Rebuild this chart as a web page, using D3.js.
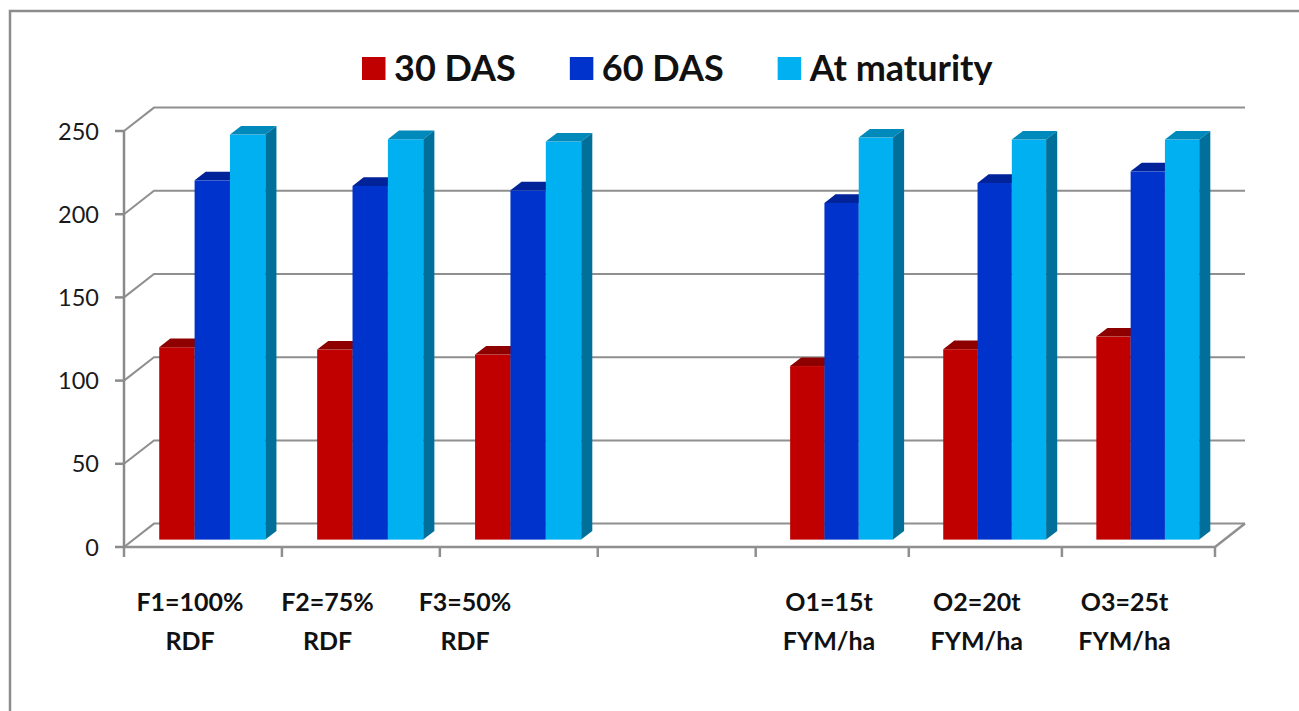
<!DOCTYPE html>
<html>
<head>
<meta charset="utf-8">
<script src="https://cdn.jsdelivr.net/npm/d3@7"></script>
<style>
  html, body { margin: 0; padding: 0; background: #fff; }
  svg { display: block; font-family: Lato, "Open Sans", sans-serif; }
</style>
</head>
<body>
<svg id="chart" width="1299" height="711"></svg>
<script>
// categories (two label lines each); the 4th slot is an empty gap in the chart
const catLine1 = ["F1=100%", "F2=75%", "F3=50%", "", "O1=15t", "O2=20t", "O3=25t"];
const catLine2 = ["RDF", "RDF", "RDF", "", "FYM/ha", "FYM/ha", "FYM/ha"];

// values
const das30    = [115.6, 114.2, 111.2, null, 104.3, 114.4, 122.0];
const das60    = [215.9, 212.5, 209.9, null, 202.3, 214.3, 221.3];
const maturity = [243.4, 240.6, 239.2, null, 241.6, 240.4, 240.4];

const seriesNames = ["30 DAS", "60 DAS", "At maturity"];
const yTicks = [0, 50, 100, 150, 200, 250];

const series = [das30, das60, maturity];
const colors = [
  { front: "#c00000", top: "#8e0000", side: "#900000" },
  { front: "#0033cc", top: "#00239a", side: "#00229a" },
  { front: "#00b0f0", top: "#0089bb", side: "#00709a" }
];

const svg = d3.select("#chart");

// outer frame
svg.append("rect")
  .attr("x", 10).attr("y", 11)
  .attr("width", 1400).attr("height", 800)
  .attr("fill", "none").attr("stroke", "#8c8c8c").attr("stroke-width", 2.5);

// 3d depth of the plot box
const DX = 30, DY = -23.4;
const x0 = 124, x1 = 1215;

const y = d3.scaleLinear().domain([0, 250]).range([547, 131]);
// category edges on the front plane (slight perspective: left side is wider)
const xEdge = d3.scaleLinear().domain([0, 4, 7]).range([x0, 755.7, x1]);
// label centres
const labelX = d3.scaleLinear().domain([0, 2, 4, 6]).range([190, 465, 829, 1124.5]);

const grid = svg.append("g")
  .attr("stroke", "#8f8f8f").attr("stroke-width", 2).attr("fill", "none");

// back wall gridlines + side wall diagonals
yTicks.forEach(t => {
  grid.append("path")
    .attr("d", `M${x0},${y(t)} L${x0 + DX},${y(t) + DY} L${x1 + DX},${y(t) + DY}`);
});

// floor front edge and right diagonal
grid.append("path")
  .attr("stroke-width", 2.5)
  .attr("d", `M${x0},${y(0)} L${x1},${y(0)} L${x1 + DX},${y(0) + DY}`);

// x tick marks
grid.selectAll(".xt")
  .data(d3.range(8))
  .join("line")
  .attr("x1", d => xEdge(d)).attr("x2", d => xEdge(d))
  .attr("y1", y(0)).attr("y2", y(0) + 10)
  .attr("stroke-width", 2.5);

// bars
const f0 = 0.316, fd = 0.37;     // depth fraction of bar front, bar depth
const bdx = fd * DX, bdy = fd * DY;
const bars = svg.append("g");

catLine1.forEach((c, i) => {
  const left = xEdge(i), cw = xEdge(i + 1) - xEdge(i);
  series.forEach((s, j) => {
    const v = s[i];
    if (v == null) return;
    const bw = cw * 0.224;
    const bx = left + cw * (0.163 + 0.224 * j) + f0 * DX;
    const yt = y(v) + f0 * DY;
    const yb = y(0) + f0 * DY;
    const g = bars.append("g");
    g.append("rect")
      .attr("x", bx).attr("y", yt)
      .attr("width", bw).attr("height", yb - yt)
      .attr("fill", colors[j].front);
    g.append("path")
      .attr("d", `M${bx},${yt} L${bx + bw},${yt} L${bx + bw + bdx},${yt + bdy} L${bx + bdx},${yt + bdy}Z`)
      .attr("fill", colors[j].top);
    g.append("path")
      .attr("d", `M${bx + bw},${yt} L${bx + bw + bdx},${yt + bdy} L${bx + bw + bdx},${yb + bdy} L${bx + bw},${yb}Z`)
      .attr("fill", colors[j].side);
  });
});

// y axis line and ticks
const axis = svg.append("g").attr("stroke", "#8a8a8a").attr("stroke-width", 2.5);
axis.append("line")
  .attr("x1", x0).attr("x2", x0)
  .attr("y1", y(250)).attr("y2", y(0));
axis.selectAll(".yt")
  .data(yTicks)
  .join("line")
  .attr("x1", x0 - 9).attr("x2", x0)
  .attr("y1", d => y(d)).attr("y2", d => y(d));

svg.append("g").selectAll("text")
  .data(yTicks)
  .join("text")
  .attr("x", 99)
  .attr("y", d => y(d) + 8.5)
  .attr("text-anchor", "end")
  .attr("font-size", 23.5)
  .attr("fill", "#1a1a1a")
  .text(d => d);

// category labels
const lab = svg.append("g")
  .attr("text-anchor", "middle")
  .attr("font-size", 25)
  .attr("font-weight", "bold")
  .attr("fill", "#111");
catLine1.forEach((c, i) => {
  if (!c) return;
  const idx = i;
  lab.append("text").attr("x", labelX(idx > 3 ? idx : idx)).attr("y", 611).text(c);
  lab.append("text").attr("x", labelX(idx)).attr("y", 650).text(catLine2[i]);
});

// legend (clipped at the bottom as in the original)
svg.append("clipPath").attr("id", "legclip")
  .append("rect").attr("x", 0).attr("y", 0).attr("width", 1299).attr("height", 85);

const legend = svg.append("g").attr("clip-path", "url(#legclip)");
let lx = 362;
seriesNames.forEach((name, j) => {
  legend.append("rect")
    .attr("x", lx).attr("y", 57)
    .attr("width", 23.5).attr("height", 23)
    .attr("fill", colors[j].front);
  const t = legend.append("text")
    .attr("x", lx + 32).attr("y", 80.5)
    .attr("font-size", 36)
    .attr("font-weight", "bold")
    .attr("fill", "#111")
    .text(name);
  lx += 32 + t.node().getComputedTextLength() + 54;
});
</script>
</body>
</html>
